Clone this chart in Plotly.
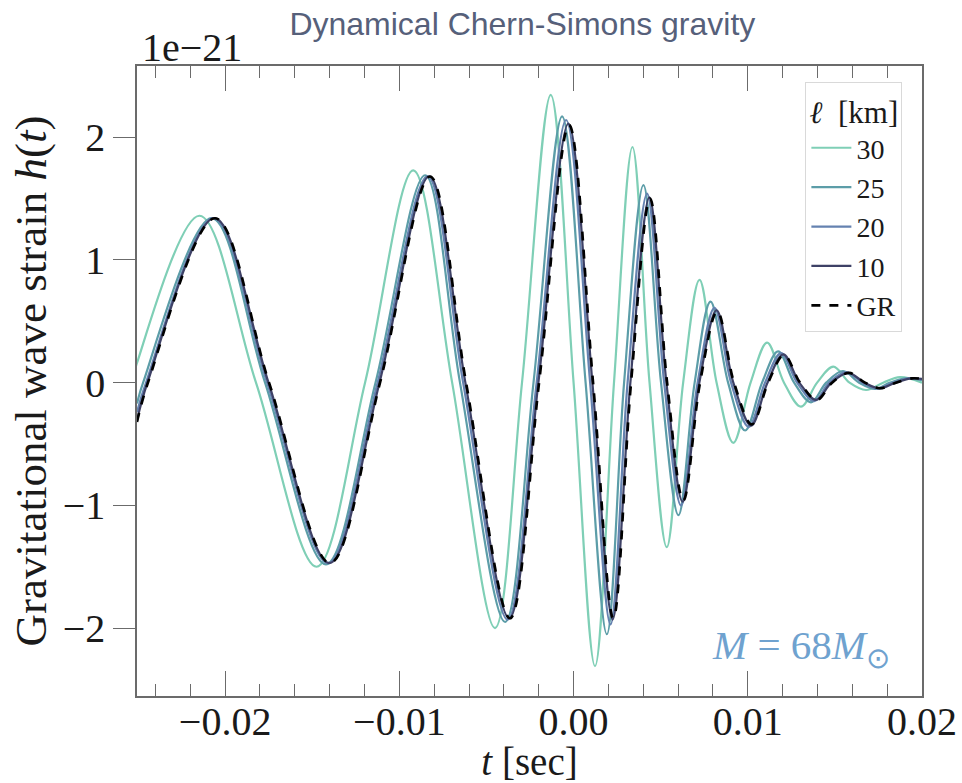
import plotly.graph_objects as go

# ---- data (t in sec, h in units of 1e-21) ----
t_gr = [-0.02506, -0.02443, -0.02058, -0.01748, -0.01398, -0.01111, -0.00824, -0.00617, -0.00365,
        -0.00198, -0.00026, 0.00112, 0.00228, 0.00330, 0.00439, 0.00537, 0.00630, 0.00726, 0.00825,
        0.00921, 0.01023, 0.01117, 0.01208, 0.01300, 0.01396, 0.01484, 0.01582, 0.01673, 0.01759,
        0.01851, 0.01943, 0.02000]
h_gr = [-0.32, 0.0, 1.34, 0.0, -1.47, 0.0, 1.68, 0.0, -1.92, 0.0, 2.10, 0.0, -1.92, 0.0, 1.50, 0.0,
        -0.96, 0.0, 0.58, 0.0, -0.34, 0.0, 0.226, 0.0, -0.141, 0.0, 0.08, 0.0, -0.046, 0.0, 0.035, 0.03]

t_10 = [-0.02506, -0.02446, -0.02061, -0.01751, -0.01401, -0.01114, -0.00828, -0.00621, -0.00369,
        -0.00202, -0.00030, 0.00108, 0.00224, 0.00326, 0.00435, 0.00533, 0.00626, 0.00722, 0.00821,
        0.00917, 0.01019, 0.01113, 0.01204, 0.01296, 0.01392, 0.01480, 0.01578, 0.01669, 0.01755,
        0.01847, 0.01939, 0.02000]
h_10 = [-0.31, 0.0, 1.34, 0.0, -1.47, 0.0, 1.68, 0.0, -1.92, 0.0, 2.11, 0.0, -1.93, 0.0, 1.51, 0.0,
        -0.97, 0.0, 0.59, 0.0, -0.35, 0.0, 0.23, 0.0, -0.14, 0.0, 0.08, 0.0, -0.046, 0.0, 0.035, 0.03]

t_20 = [-0.02506, -0.02454, -0.02067, -0.01759, -0.01409, -0.01125, -0.00838, -0.00634, -0.00379,
        -0.00212, -0.00043, 0.00095, 0.00212, 0.00310, 0.00422, 0.00520, 0.00617, 0.00712, 0.00809,
        0.00904, 0.01005, 0.01099, 0.01191, 0.01283, 0.01381, 0.01467, 0.01564, 0.01659, 0.01745,
        0.01834, 0.01926, 0.02000]
h_20 = [-0.24, 0.0, 1.34, 0.0, -1.47, 0.0, 1.68, 0.0, -1.93, 0.0, 2.14, 0.0, -1.97, 0.0, 1.54, 0.0,
        -1.00, 0.0, 0.61, 0.0, -0.36, 0.0, 0.24, 0.0, -0.15, 0.0, 0.085, 0.0, -0.048, 0.0, 0.035, 0.025]

t_25 = [-0.02506, -0.02471, -0.02077, -0.01771, -0.01421, -0.01137, -0.00852, -0.00652, -0.00393,
        -0.00230, -0.00066, 0.00069, 0.00191, 0.00290, 0.00401, 0.00502, 0.00602, 0.00695, 0.00786,
        0.00887, 0.00985, 0.01082, 0.01174, 0.01266, 0.01363, 0.01450, 0.01547, 0.01639, 0.01731,
        0.01817, 0.01909, 0.02000]
h_25 = [-0.17, 0.0, 1.34, 0.0, -1.48, 0.0, 1.69, 0.0, -1.95, 0.0, 2.17, 0.0, -2.05, 0.0, 1.61, 0.0,
        -1.08, 0.0, 0.66, 0.0, -0.39, 0.0, 0.255, 0.0, -0.16, 0.0, 0.095, 0.0, -0.05, 0.0, 0.035, 0.02]

t_30 = [-0.02535, -0.02506, -0.02147, -0.01823, -0.01475, -0.01197, -0.00920, -0.00697, -0.00451,
        -0.00296, -0.00131, 0.00000, 0.00123, 0.00232, 0.00338, 0.00436, 0.00535, 0.00629, 0.00723,
        0.00821, 0.00917, 0.01016, 0.01111, 0.01208, 0.01305, 0.01398, 0.01491, 0.01584, 0.01679,
        0.01777, 0.01874, 0.02000]
h_30 = [0.0, 0.16, 1.36, 0.0, -1.50, 0.0, 1.73, 0.0, -2.00, 0.0, 2.345, 0.0, -2.31, 0.0, 1.92, 0.0,
        -1.34, 0.0, 0.837, 0.0, -0.49, 0.0, 0.326, 0.0, -0.196, 0.0, 0.13, 0.0, -0.06, 0.0, 0.045, 0.0]

labels = ["30", "25", "20", "10", "GR"]
colors = ["#7fcfb6", "#5c9da8", "#6582b0", "#3e4166", "#000000"]

x_ticks = [-0.02, -0.01, 0.00, 0.01, 0.02]
x_ticktext = ["\u22120.02", "\u22120.01", "0.00", "0.01", "0.02"]
y_ticks = [-2, -1, 0, 1, 2]
y_ticktext = ["\u22122", "\u22121", "0", "1", "2"]

SERIF = "Liberation Serif, Times New Roman, serif"
TXT = "#1a1a1a"

fig = go.Figure()
series = [(t_30, h_30), (t_25, h_25), (t_20, h_20), (t_10, h_10), (t_gr, h_gr)]
for (tx, hy), name, col in zip(series, labels, colors):
    fig.add_trace(go.Scatter(
        x=tx, y=hy, name=name, mode="lines",
        line=dict(color=col, width=2.6 if name == "GR" else 2.2,
                  dash="dash" if name == "GR" else "solid",
                  shape="spline", smoothing=1.0),
    ))

frame = "#6b6b6b"
fig.update_layout(
    width=962, height=783,
    margin=dict(l=137, r=40, t=66, b=87, autoexpand=False),
    paper_bgcolor="white", plot_bgcolor="white",
    font=dict(family=SERIF, size=40, color=TXT),
    title=dict(text="Dynamical Chern-Simons gravity", x=0.543, xanchor="center",
               y=0.97, yanchor="middle",
               font=dict(family="Liberation Sans, Arial, sans-serif", size=32, color="#56607a")),
    showlegend=True,
    legend=dict(
        x=0.975, y=0.975, xanchor="right", yanchor="top",
        bgcolor="rgba(255,255,255,0.9)", bordercolor="#d9d9d9", borderwidth=1,
        font=dict(family=SERIF, size=28, color=TXT),
        title=dict(text="<i>\u2113</i>  [km]", side="top center",
                   font=dict(family=SERIF, size=31, color=TXT)),
        itemwidth=40,
    ),
    xaxis=dict(
        range=[-0.02506, 0.0200], tickvals=x_ticks, ticktext=x_ticktext,
        ticks="inside", ticklen=25, tickwidth=1.3, tickcolor=frame,
        showline=True, linecolor=frame, linewidth=1.5, mirror="ticks",
        showgrid=False, zeroline=False, automargin=False, ticklabelstandoff=-11,
        minor=dict(dtick=0.002, tick0=0, ticks="inside", ticklen=12, tickwidth=1.1,
                   tickcolor=frame, showgrid=False),
        tickfont=dict(family=SERIF, size=40, color=TXT),
        title=dict(text="<i>t</i> [sec]", font=dict(family=SERIF, size=39, color=TXT),
                   standoff=2),
    ),
    yaxis=dict(
        range=[-2.553, 2.58], tickvals=y_ticks, ticktext=y_ticktext,
        ticks="outside", ticklen=22, tickwidth=1.3, tickcolor=frame,
        showline=True, linecolor=frame, linewidth=1.5, mirror=True,
        showgrid=False, zeroline=False, automargin=False,
        tickfont=dict(family=SERIF, size=40, color=TXT),
        title=dict(text="Gravitational wave strain <i>h</i>(<i>t</i>)",
                   font=dict(family=SERIF, size=45, color=TXT), standoff=2),
    ),
)

fig.add_annotation(xref="paper", yref="paper", x=0.0, y=1.0, xanchor="left", yanchor="bottom",
                   xshift=3, yshift=-6, showarrow=False, text="1e\u221221",
                   font=dict(family=SERIF, size=40, color=TXT))
fig.add_annotation(xref="paper", yref="paper", x=0.962, y=0.076, xanchor="right", yanchor="middle",
                   showarrow=False,
                   text="<i>M</i> = 68<i>M</i><sub>\u2299</sub>",
                   font=dict(family=SERIF, size=41, color="#6fa2cf"))

fig.write_html("out.html")
